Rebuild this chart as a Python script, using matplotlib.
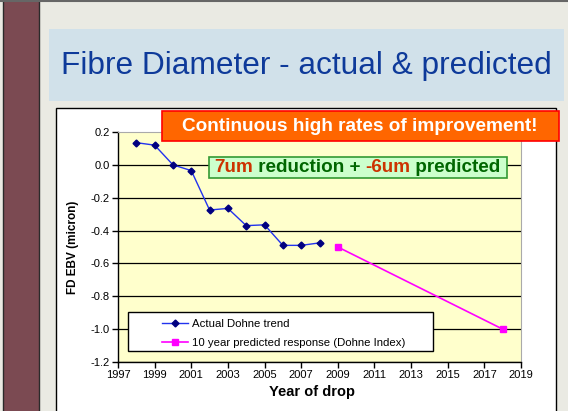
import matplotlib
matplotlib.use('Agg')
import matplotlib.pyplot as plt
from matplotlib.patches import Rectangle
from matplotlib.lines import Line2D

# ── Data ───────────────────────────────────────────────────────────────────
years_actual = [1998, 1999, 2000, 2001, 2002, 2003, 2004, 2005, 2006, 2007, 2008]
ebv_actual   = [0.135, 0.12, 0.0, -0.035, -0.275, -0.265, -0.37, -0.365, -0.49, -0.49, -0.475]
years_pred   = [2009, 2018]
ebv_pred     = [-0.50, -1.00]
x_ticks      = list(range(1997, 2020, 2))
y_ticks      = [-1.2, -1.0, -0.8, -0.6, -0.4, -0.2, 0.0, 0.2]

plt.rcParams.update({'font.family': ['Liberation Sans', 'DejaVu Sans'],
                     'axes.unicode_minus': False})

W, H = 568, 411
fig = plt.figure(figsize=(W / 100, H / 100), dpi=100)
fig.patch.set_facecolor('#EAEAE3')

def box(x0, y0, x1, y1, **kw):
    # pixel box (top-left origin) -> figure rectangle
    r = Rectangle((x0 / W, 1 - y1 / H), (x1 - x0) / W, (y1 - y0) / H,
                  transform=fig.transFigure, **kw)
    fig.add_artist(r)
    return r

# ── Slide decoration ───────────────────────────────────────────────────────
box(3, -2, 39, 415, fc='#7B4A52', ec='#2a2a2a', lw=1, zorder=-5)
fig.add_artist(Line2D([0, 1], [1 - 1.5 / H] * 2, transform=fig.transFigure,
                      color='#666666', lw=1.5, zorder=-4))
box(49, 29, 564, 101, fc='#D1E1EA', ec='none', zorder=-5)
fig.text(306 / W, 1 - 66 / H, 'Fibre Diameter - actual & predicted',
         ha='center', va='center', fontsize=22.8, color='#0E3A9A')
box(56, 108, 556, 420, fc='white', ec='black', lw=1, zorder=-5)

# ── Chart ───────────────────────────────────────────────────────────────────
ax = fig.add_axes([118 / W, 1 - 362 / H, (521 - 118) / W, (362 - 132) / H])
ax.set_facecolor('#FFFFCC')
ax.plot(years_actual, ebv_actual, '-', color='#2233EE', lw=1,
        marker='D', ms=3.5, mfc='#000080', mec='#000080',
        label='Actual Dohne trend')
ax.plot(years_pred, ebv_pred, '-', color='#FF00FF', lw=1.2,
        marker='s', ms=4.5, mfc='#FF00FF', mec='#FF00FF',
        label='10 year predicted response (Dohne Index)')

ax.set_xlim(1997, 2019)
ax.set_ylim(-1.2, 0.2)
ax.set_xticks(x_ticks)
ax.set_yticks(y_ticks)
ax.set_yticklabels([f'{v:.1f}' for v in y_ticks])
ax.tick_params(labelsize=8, length=4, width=1, direction='out', pad=2)
ax.yaxis.grid(True, color='black', lw=0.9)
ax.get_ygridlines()[-1].set_visible(False)
ax.set_axisbelow(True)
for s in ['top', 'right']:
    ax.spines[s].set_color('#AAAAAA')
    ax.spines[s].set_linewidth(0.8)
for s in ['left', 'bottom']:
    ax.spines[s].set_linewidth(1)

ax.set_xlabel('Year of drop', fontsize=10.5, fontweight='bold')
ax.xaxis.set_label_coords((312 - 118) / 403, -(385 - 362) / 230)
ax.set_ylabel('FD EBV (micron)', fontsize=8.5, fontweight='bold', labelpad=8)

# legend frame drawn by hand so the entries sit inset like the original
ax.add_patch(Rectangle((10 / 403, (362 - 351) / 230), (433 - 128) / 403, 39 / 230,
                       transform=ax.transAxes, fc='white', ec='black', lw=1, zorder=3))
leg = ax.legend(loc='upper left', bbox_to_anchor=(36 / 403, (362 - 311) / 230),
                frameon=False, fontsize=8.2, handlelength=2.3, handletextpad=0.3,
                labelspacing=0.75, borderpad=0.2)
leg.set_zorder(4)

# ── Callout boxes ──────────────────────────────────────────────────────────
box(162, 111, 559, 141, fc='#FF6600', ec='#FF0000', lw=1.2, zorder=5)
fig.text(360 / W, 1 - 126 / H, 'Continuous high rates of improvement!',
         ha='center', va='center', fontsize=13.7, fontweight='bold',
         color='white', zorder=6)

box(209, 157, 507, 178, fc='#CCFFCC', ec='#339933', lw=1.2, zorder=5)
parts = [('7um', '#CC3300'), (' reduction + ', '#006600'),
         ('-6um', '#CC3300'), (' predicted', '#006600')]
fig.canvas.draw()
renderer = fig.canvas.get_renderer()
x = 214
for txt, col in parts:
    t = fig.text(x / W, 1 - 168 / H, txt, ha='left', va='center', fontsize=13.6,
                 fontweight='bold', color=col, zorder=6)
    x += t.get_window_extent(renderer).width

fig.savefig('out.png', dpi=100, facecolor=fig.get_facecolor())
